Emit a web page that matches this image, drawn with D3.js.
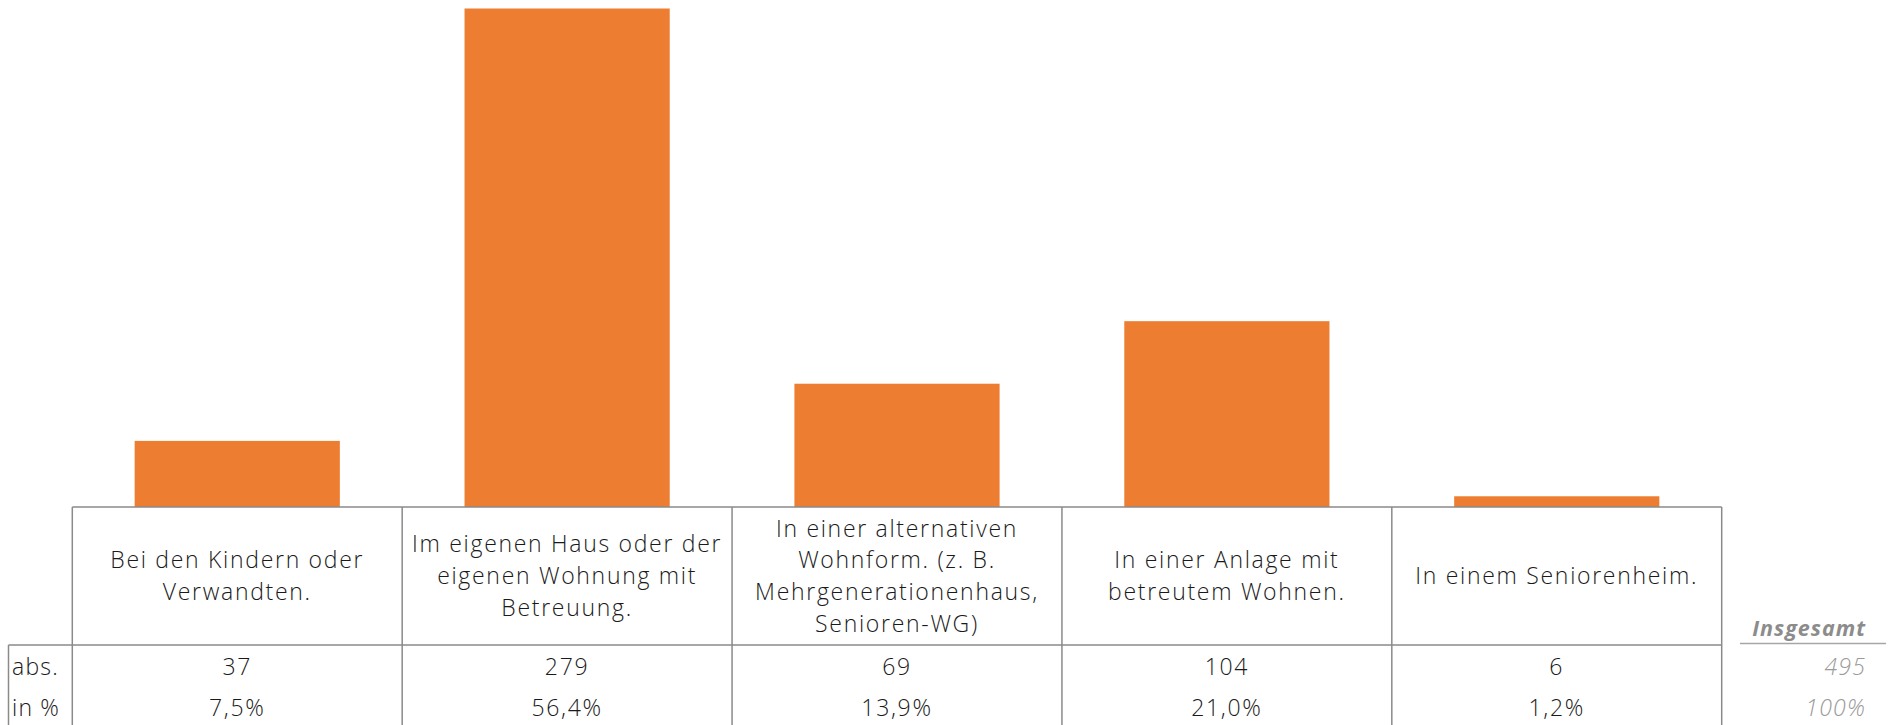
<!DOCTYPE html>
<html>
<head>
<meta charset="utf-8">
<script src="https://cdn.jsdelivr.net/npm/d3@7"></script>
<style>
  html, body { margin: 0; padding: 0; background: #fff; }
  svg { display: block; }
  text { font-family: "Open Sans", Lato, sans-serif; }
</style>
</head>
<body>
<svg id="chart" width="1894" height="725"></svg>
<script>
const categories = [
  "Bei den Kindern oder\nVerwandten.",
  "Im eigenen Haus oder der\neigenen Wohnung mit\nBetreuung.",
  "In einer alternativen\nWohnform. (z. B.\nMehrgenerationenhaus,\nSenioren-WG)",
  "In einer Anlage mit\nbetreutem Wohnen.",
  "In einem Seniorenheim."
];
const absValues = [37, 279, 69, 104, 6];
const pctLabels = ["7,5%", "56,4%", "13,9%", "21,0%", "1,2%"];
const rowLabels = ["abs.", "in %"];
const totalTitle = "Insgesamt";
const totalValues = ["495", "100%"];

const svg = d3.select("#chart");
const W = 1894, H = 725;
const tableLeft = 72.3, tableRight = 1721.7;
const headerTop = 507, headerBottom = 645;
const outerLeft = 8.5;
const rowCenters = [667, 708];
const lineColor = "#8a8a8a";

const xCol = d3.scaleBand().domain(d3.range(categories.length)).range([tableLeft, tableRight]).padding(0);
const xBar = d3.scaleBand().domain(d3.range(categories.length)).range([tableLeft, tableRight])
  .paddingInner(0.378).paddingOuter(0.189);
const y = d3.scaleLinear().domain([0, 279]).range([headerTop, 8.5]);

svg.append("g").selectAll("rect").data(absValues).join("rect")
  .attr("x", (d, i) => xBar(i))
  .attr("width", xBar.bandwidth())
  .attr("y", d => y(d))
  .attr("height", d => y(0) - y(d))
  .attr("fill", "#ED7D31");

const g = svg.append("g").attr("stroke", lineColor).attr("stroke-width", 1.5).attr("fill", "none");
g.append("line").attr("x1", tableLeft).attr("x2", tableRight).attr("y1", headerTop).attr("y2", headerTop);
g.append("line").attr("x1", outerLeft).attr("x2", tableRight).attr("y1", headerBottom).attr("y2", headerBottom);
g.append("line").attr("x1", outerLeft).attr("x2", outerLeft).attr("y1", headerBottom).attr("y2", H);
const colEdges = d3.range(categories.length + 1).map(i => i < categories.length ? xCol(i) : tableRight);
g.selectAll("line.v").data(colEdges).join("line").attr("class", "v")
  .attr("x1", d => d).attr("x2", d => d).attr("y1", headerTop).attr("y2", H);

const fs = 23, lh = 31.7, ls = 1.7;
const textColor = "#1a1a1a";
const headerMid = (headerTop + headerBottom) / 2;
categories.forEach((c, i) => {
  const lines = c.split("\n");
  const cx = xCol(i) + xCol.bandwidth() / 2;
  const t = svg.append("text")
    .attr("text-anchor", "middle")
    .attr("font-size", fs)
    .attr("font-weight", 300)
    .attr("letter-spacing", ls)
    .attr("fill", textColor);
  lines.forEach((l, k) => {
    t.append("tspan")
      .attr("x", cx)
      .attr("y", headerMid + (k - (lines.length - 1) / 2) * lh)
      .attr("dy", "0.35em")
      .text(l);
  });
});

const rows = [absValues.map(String), pctLabels];
rows.forEach((r, ri) => {
  svg.append("text").attr("x", 12).attr("y", rowCenters[ri]).attr("dy", "0.35em")
    .attr("font-size", fs).attr("font-weight", 300).attr("letter-spacing", 1.2)
    .attr("fill", textColor).text(rowLabels[ri]);
  svg.append("g").selectAll("text").data(r).join("text")
    .attr("x", (d, i) => xCol(i) + xCol.bandwidth() / 2)
    .attr("y", rowCenters[ri]).attr("dy", "0.35em")
    .attr("text-anchor", "middle")
    .attr("font-size", fs).attr("font-weight", 300).attr("letter-spacing", ls)
    .attr("fill", textColor)
    .text(d => d);
});

const totalX = 1866;
svg.append("text").attr("x", totalX).attr("y", 628).attr("dy", "0.35em")
  .attr("text-anchor", "end").attr("font-size", 21.5).attr("font-weight", 700)
  .attr("letter-spacing", 1)
  .attr("font-style", "italic").attr("fill", "#8c8c8c").text(totalTitle);
svg.append("line").attr("x1", 1740).attr("x2", 1886).attr("y1", 643.5).attr("y2", 643.5)
  .attr("stroke", "#a6a6a6").attr("stroke-width", 1.5);
totalValues.forEach((v, i) => {
  svg.append("text").attr("x", totalX).attr("y", rowCenters[i]).attr("dy", "0.35em")
    .attr("text-anchor", "end").attr("font-size", fs).attr("font-weight", 300)
    .attr("letter-spacing", 1.2)
    .attr("font-style", "italic").attr("fill", "#9a9a9a").text(v);
});
</script>
</body>
</html>
